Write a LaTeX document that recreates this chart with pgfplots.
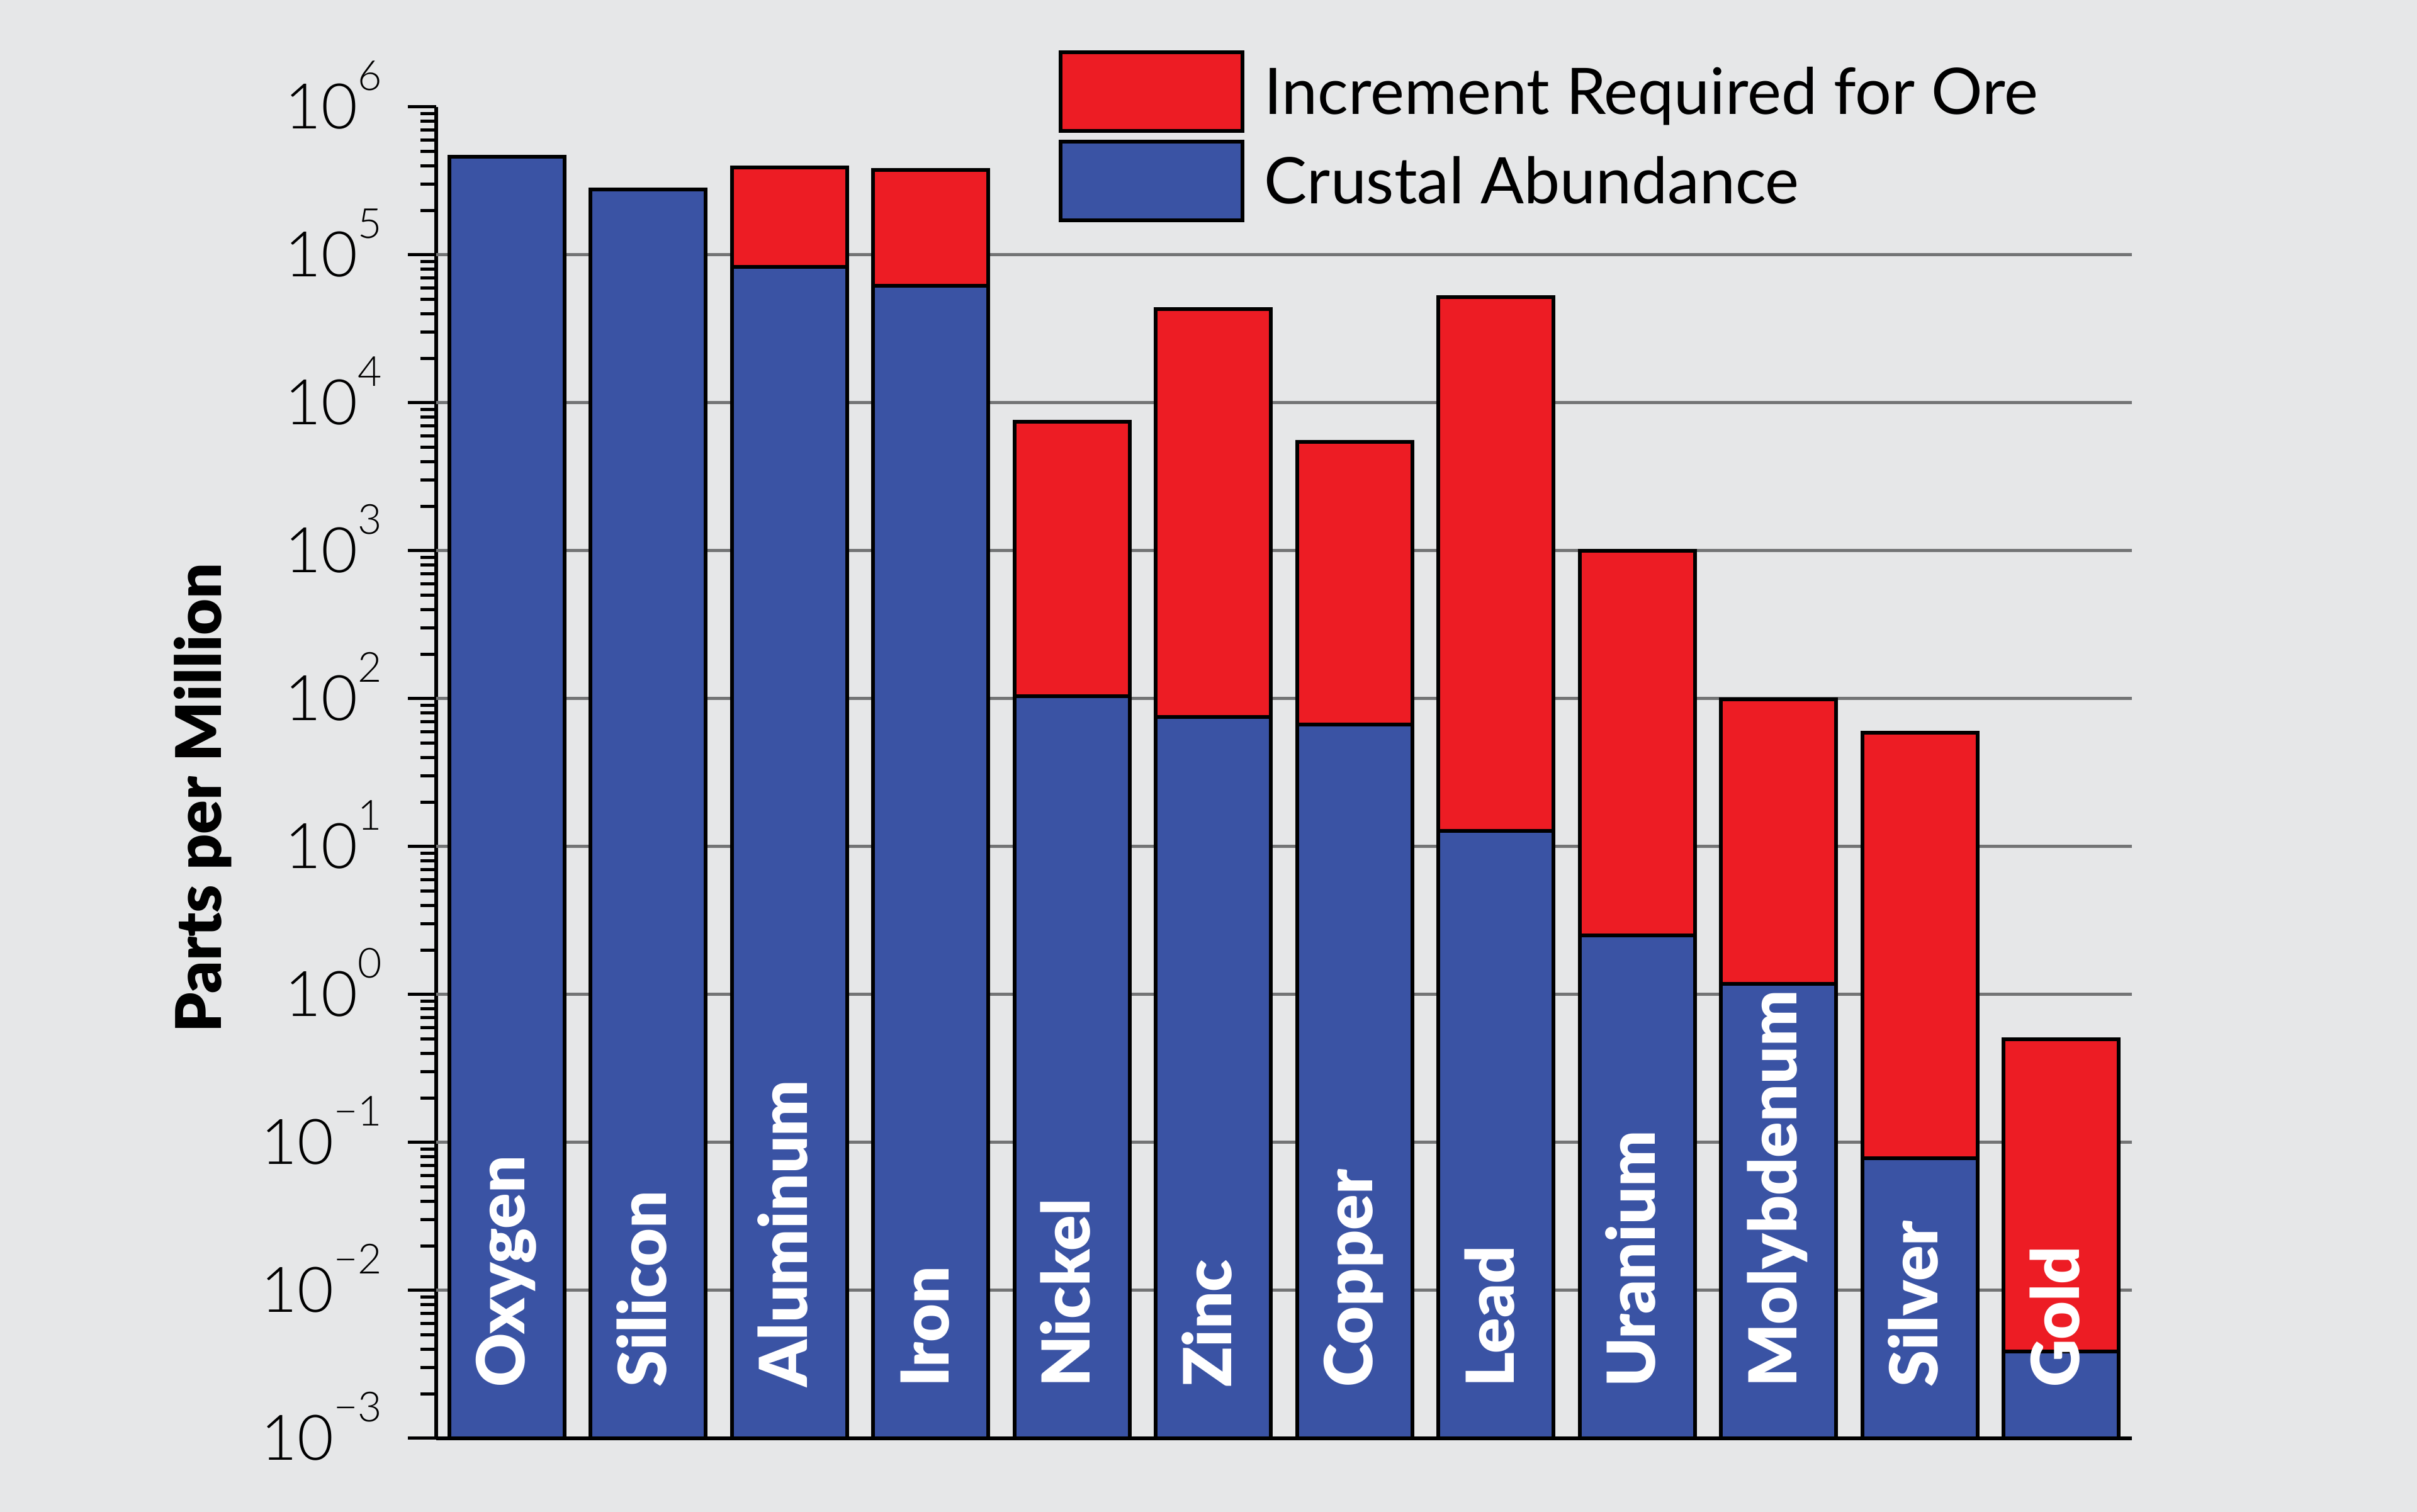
\documentclass[border=0pt]{standalone}
\usepackage{fontspec}
\setmainfont{Lato}
\newfontfamily\latolight{Lato Light}
\newfontfamily\latoblack{Lato Black}
\usepackage{pgfplots}
\pgfplotsset{compat=1.18}
\definecolor{bg}{HTML}{E6E7E8}
\definecolor{crust}{HTML}{3A53A4}
\definecolor{ore}{HTML}{ED1C24}
\definecolor{gridgray}{HTML}{737475}
\newcommand\pw[1]{10\raisebox{6.1pt}{\fontsize{6.6}{7}\selectfont #1}}
\begin{document}
\begin{tikzpicture}
\path[use as bounding box, fill=bg] (0,0) rectangle (384pt,240.2pt);
\begin{axis}[
  at={(69.3pt,11.7pt)}, anchor=south west,
  width=269.4pt, height=211.5pt, scale only axis,
  ymode=log, ymin=1e-3, ymax=1e6, xmin=-0.5, xmax=11.5,
  log origin y=infty,
  axis x line*=bottom, axis y line*=left,
  axis line style={black, line width=0.6pt},
  xtick=\empty,
  ytick={1e-3,1e-2,1e-1,1,10,100,1000,1e4,1e5,1e6},
  yticklabels={\pw{−3},\pw{−2},\pw{−1},\pw{0},\pw{1},\pw{2},\pw{3},\pw{4},\pw{5},\pw{6}},
  minor ytick={2e-3,3e-3,4e-3,5e-3,6e-3,7e-3,8e-3,9e-3,
    2e-2,3e-2,4e-2,5e-2,6e-2,7e-2,8e-2,9e-2,
    0.2,0.3,0.4,0.5,0.6,0.7,0.8,0.9,
    2,3,4,5,6,7,8,9,
    20,30,40,50,60,70,80,90,
    200,300,400,500,600,700,800,900,
    2000,3000,4000,5000,6000,7000,8000,9000,
    2e4,3e4,4e4,5e4,6e4,7e4,8e4,9e4,
    2e5,3e5,4e5,5e5,6e5,7e5,8e5,9e5},
  ytick pos=left, tick align=outside,
  major tick length=4.5pt, minor tick length=2.5pt,
  every tick/.style={black, line width=0.5pt},
  yticklabel style={font=\latolight\fontsize{10}{10}\selectfont, anchor=base east, yshift=-3.5pt, inner sep=0pt, xshift=-3.9pt},
  extra y ticks={1e-2,1e-1,1,10,100,1000,1e4,1e5},
  extra y tick labels={},
  extra y tick style={ymajorgrids=true, major tick length=0pt},
  major grid style={gridgray, line width=0.5pt},
  ylabel={Parts per Million},
  ylabel style={font=\latoblack\fontsize{10}{12}\selectfont, at={(axis description cs:-0.1266,0.481)}, anchor=base},
  legend style={at={(axis description cs:0.3671,1.0426)}, anchor=north west, draw=none, fill=none,
    inner sep=0pt, outer sep=0pt, row sep=1.1pt, column sep=3.2pt,
    font=\fontsize{10.2}{12}\selectfont,
    nodes={inner sep=0pt, text height=7.3pt, text depth=0pt}},
  legend cell align=left,
  legend image code/.code={\draw[#1, line width=0.6pt] (0pt,-6.25pt) rectangle (28.9pt,6.25pt);},
  clip=false,
]
% level required for an ore (top of red bar)
\addplot[ybar, bar width=18.3pt, bar shift=0pt, fill=ore, draw=black, line width=0.6pt]
  coordinates {(2,3.9e5) (3,3.75e5) (4,7450) (5,42900) (6,5450) (7,51700)
               (8,1000) (9,99) (10,59) (11,0.5)};
\addlegendentry{Increment Required for Ore}
% crustal abundance
\addplot[ybar, bar width=18.3pt, bar shift=0pt, fill=crust, draw=black, line width=0.6pt]
  coordinates {(0,4.6e5) (1,2.77e5) (2,8.26e4) (3,6.2e4) (4,104) (5,75) (6,67)
               (7,12.8) (8,2.5) (9,1.18) (10,0.078) (11,0.00385)};
\addlegendentry{Crustal Abundance}
\tikzset{lbl/.style={rotate=90, anchor=base west, inner sep=0pt, text=white, font=\latoblack\fontsize{10.5}{12}\selectfont}}
\node[lbl] at ([xshift=2.85pt,yshift=7.9pt]axis cs:0,1e-3) {Oxygen};
\node[lbl] at ([xshift=2.85pt,yshift=7.9pt]axis cs:1,1e-3) {Silicon};
\node[lbl] at ([xshift=2.85pt,yshift=7.9pt]axis cs:2,1e-3) {Aluminum};
\node[lbl] at ([xshift=2.85pt,yshift=7.9pt]axis cs:3,1e-3) {Iron};
\node[lbl] at ([xshift=2.85pt,yshift=7.9pt]axis cs:4,1e-3) {Nickel};
\node[lbl] at ([xshift=2.85pt,yshift=7.9pt]axis cs:5,1e-3) {Zinc};
\node[lbl] at ([xshift=2.85pt,yshift=7.9pt]axis cs:6,1e-3) {Copper};
\node[lbl] at ([xshift=2.85pt,yshift=7.9pt]axis cs:7,1e-3) {Lead};
\node[lbl] at ([xshift=2.85pt,yshift=7.9pt]axis cs:8,1e-3) {Uranium};
\node[lbl] at ([xshift=2.85pt,yshift=7.9pt]axis cs:9,1e-3) {Molybdenum};
\node[lbl] at ([xshift=2.85pt,yshift=7.9pt]axis cs:10,1e-3) {Silver};
\node[lbl] at ([xshift=2.85pt,yshift=7.9pt]axis cs:11,1e-3) {Gold};
\end{axis}
\end{tikzpicture}
\end{document}
